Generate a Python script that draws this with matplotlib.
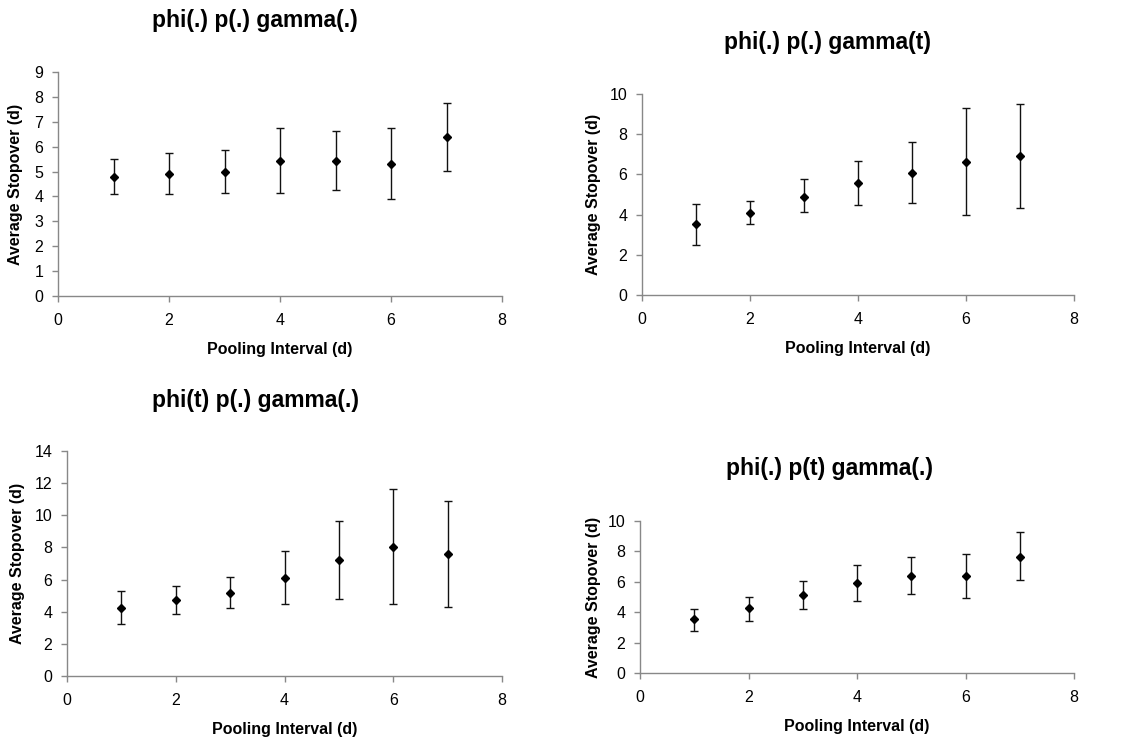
import matplotlib
matplotlib.use('Agg')
import matplotlib.pyplot as plt
import numpy as np

plt.rcParams['font.family'] = ['Liberation Sans', 'DejaVu Sans']

# pooling interval (days)
interval = [1, 2, 3, 4, 5, 6, 7]

# phi(.) p(.) gamma(.)
m1_mean = [4.79, 4.91, 5.00, 5.43, 5.43, 5.31, 6.39]
m1_low = [4.09, 4.09, 4.14, 4.14, 4.26, 3.91, 5.01]
m1_high = [5.50, 5.76, 5.87, 6.74, 6.64, 6.74, 7.77]

# phi(.) p(.) gamma(t)
m2_mean = [3.52, 4.09, 4.90, 5.55, 6.05, 6.64, 6.93]
m2_low = [2.48, 3.54, 4.15, 4.47, 4.57, 4.00, 4.35]
m2_high = [4.52, 4.68, 5.75, 6.68, 7.61, 9.30, 9.52]

# phi(t) p(.) gamma(.)
m3_mean = [4.24, 4.76, 5.17, 6.11, 7.19, 8.02, 7.62]
m3_low = [3.22, 3.88, 4.24, 4.51, 4.78, 4.51, 4.30]
m3_high = [5.28, 5.59, 6.13, 7.75, 9.66, 11.63, 10.86]

# phi(.) p(t) gamma(.)
m4_mean = [3.52, 4.26, 5.11, 5.94, 6.38, 6.38, 7.60]
m4_low = [2.77, 3.43, 4.19, 4.76, 5.20, 4.91, 6.09]
m4_high = [4.24, 4.98, 6.07, 7.12, 7.62, 7.86, 9.26]

titles = ['phi(.) p(.) gamma(.)', 'phi(.) p(.) gamma(t)',
          'phi(t) p(.) gamma(.)', 'phi(.) p(t) gamma(.)']

W, H = 1123, 744
fig = plt.figure(figsize=(W / 100, H / 100), dpi=100)


def px_axes(left, top, right, bottom):
    # pixel box -> figure fraction
    return [left / W, 1 - bottom / H, (right - left) / W, (bottom - top) / H]


def panel(box, title, title_xy, mean, low, high, ymax, ystep, ylab_x):
    ax = fig.add_axes(px_axes(*box))
    mean = np.array(mean)
    yerr = [mean - np.array(low), np.array(high) - mean]
    ax.errorbar(interval, mean, yerr=yerr, fmt='D', color='black',
                markersize=4.5, ecolor='#111111', elinewidth=1, capsize=3, capthick=1)
    ax.set_xlim(0, 8)
    ax.set_ylim(0, ymax)
    ax.set_xticks(range(0, 9, 2))
    ax.set_yticks(np.arange(0, ymax + 0.1, ystep))
    for s in ['top', 'right']:
        ax.spines[s].set_visible(False)
    for s in ['left', 'bottom']:
        ax.spines[s].set_color('#888888')
        ax.spines[s].set_linewidth(1)
    ax.tick_params(axis='both', direction='out', length=4, width=1,
                   color='#888888', labelsize=11.5)
    ax.tick_params(axis='x', pad=8)
    ax.tick_params(axis='y', pad=6.5)
    ax.set_xlabel('Pooling Interval (d)', fontsize=11.5, fontweight='bold')
    ax.xaxis.set_label_coords(0.5, -46 / (box[3] - box[1]))
    ax.set_ylabel('Average Stopover (d)', fontsize=11.5, fontweight='bold')
    ax.yaxis.set_label_coords((ylab_x + 8 - box[0]) / (box[2] - box[0]), 0.5)
    fig.text(title_xy[0] / W, 1 - title_xy[1] / H, title, ha='center', va='center',
             fontsize=16.5, fontweight='bold')
    return ax


panel((58, 72, 502, 296), titles[0], (255, 21), m1_mean, m1_low, m1_high, 9, 1, 15)
panel((642, 94, 1074, 295), titles[1], (828, 42), m2_mean, m2_low, m2_high, 10, 2, 593)
panel((67, 451, 502, 676), titles[2], (256, 401), m3_mean, m3_low, m3_high, 14, 2, 17)
panel((640, 521, 1074, 673), titles[3], (829, 469), m4_mean, m4_low, m4_high, 10, 2, 593)

fig.savefig('out.png', dpi=100)
